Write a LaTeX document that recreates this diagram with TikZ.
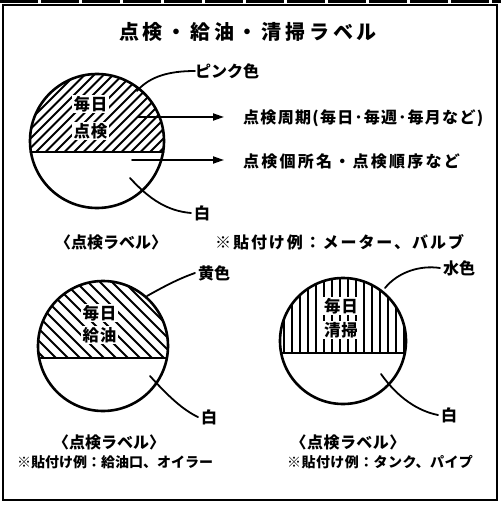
\documentclass[tikz,border=0pt]{standalone}
\usepackage{fontspec}
\setmainfont{Noto Sans CJK JP}
\usetikzlibrary{arrows.meta}
\newcommand\tx[3]{{\fontsize{#1}{#1}\selectfont\addfontfeature{LetterSpace=#2}#3}}
\begin{document}
\begin{tikzpicture}[x=1pt,y=-1pt,line cap=round,
  every node/.style={font=\bfseries,inner sep=0pt},
  frame/.style={line width=2.4pt},
  outline/.style={line width=2.6pt},
  hatch/.style={line width=2pt,line cap=butt},
  leader/.style={line width=1.8pt},
  arr/.style={line width=1.8pt,-{Triangle[length=11pt,width=7pt]}},
  lbl/.style={anchor=west},
  intext/.style={fill=white,inner sep=1.2pt}]
\useasboundingbox (0,0) rectangle (501,505);
% frame
\draw[line width=2.5pt,line cap=butt,dash pattern=on 38pt off 3pt] (0,1.5) -- (501,1.5);
\draw[frame] (3,5) rectangle (497,500);
% title
\node (title) at (248,32) {\tx{20}{19}{点検・給油・清掃ラベル}};

% ---- circle 1
\coordinate (c1) at (97,141);
\begin{scope}
  \clip (c1) circle[radius=67pt];
  \clip (20,60) rectangle (180,152);
  \foreach \k in {-12,...,40} \draw[hatch] ({-100+\k*9.5},250) -- ({100+\k*9.5},50);
\end{scope}
\draw[outline] (c1) circle[radius=67pt];
\draw[outline] (30.6,152) -- (163.4,152);
\node[intext] (t1a) at (90.5,104) {\tx{16.5}{6}{毎日}};
\node[intext] (t1b) at (90.5,131) {\tx{16.5}{6}{点検}};

\node[lbl] (pink) at (195,71) {\tx{16}{0}{ピンク色}};
\coordinate (p1) at (137,91);
\draw[leader] (p1) .. controls (150,76) and (170,71) .. (pink.west);

\node[lbl] (cyc) at (243,118) {\tx{16}{8}{点検周期(毎日･毎週･毎月など)}};
\coordinate (a1s) at (138,117);
\coordinate (a1e) at (224,117);
\draw[arr] (a1s) -- (a1e);
\node[lbl] (loc) at (243,161) {\tx{16}{14}{点検個所名・点検順序など}};
\coordinate (a2s) at (132,160);
\coordinate (a2e) at (224,160);
\draw[arr] (a2s) -- (a2e);

\node[lbl] (w1) at (194,213) {\tx{16}{0}{白}};
\coordinate (q1) at (130,178);
\draw[leader] (q1) .. controls (150,200) and (168,211) .. ([xshift=-3pt]w1.west);

\node (cap1) at (111,242) {\tx{16}{0}{〈点検ラベル〉}};
\node[lbl] (ex1) at (215,242) {\tx{16}{12}{※貼付け例：メーター、バルブ}};

% ---- circle 2
\coordinate (c2) at (103,346);
\begin{scope}
  \clip (c2) circle[radius=65pt];
  \clip (30,270) rectangle (180,358);
  \foreach \k in {-8,...,32} \draw[hatch] ({\k*12-150},200) -- ({\k*12+150},500);
\end{scope}
\draw[outline] (c2) circle[radius=65pt];
\draw[outline] (40.8,358) -- (165.2,358);
\node[intext] (t2a) at (99.5,313) {\tx{16.5}{6}{毎日}};
\node[intext] (t2b) at (99.5,335) {\tx{16.5}{6}{給油}};

\node[lbl] (yel) at (198,273) {\tx{16}{0}{黄色}};
\coordinate (p2) at (147,296);
\draw[leader] (p2) .. controls (165,286) and (178,279) .. ([xshift=-3pt]yel.west);

\node[lbl] (w2) at (201,417) {\tx{16}{0}{白}};
\coordinate (q2) at (150,376);
\draw[leader] (q2) .. controls (168,396) and (183,410) .. ([xshift=-3pt]w2.west);

\node (cap2) at (109,442) {\tx{16}{0}{〈点検ラベル〉}};
\node[lbl] (ex2) at (17,462) {\tx{14}{0}{※貼付け例：給油口、オイラー}};

% ---- circle 3
\coordinate (c3) at (343,341);
\begin{scope}
  \clip (c3) circle[radius=63pt];
  \clip (270,270) rectangle (420,353);
  \foreach \x in {276,284,...,412} \draw[hatch] (\x,270) -- (\x,360);
\end{scope}
\draw[outline] (c3) circle[radius=63pt];
\draw[outline] (281.6,353) -- (404.4,353);
\node[intext] (t3a) at (341,306) {\tx{16.5}{6}{毎日}};
\node[intext] (t3b) at (341,330) {\tx{16.5}{6}{清掃}};

\node[lbl] (wat) at (443,268) {\tx{16}{0}{水色}};
\coordinate (p3) at (385,288);
\draw[leader] (p3) .. controls (398,272) and (420,265) .. ([xshift=-3pt]wat.west);

\node[lbl] (w3) at (441,415) {\tx{16}{0}{白}};
\coordinate (q3) at (381,374);
\draw[leader] (q3) .. controls (398,398) and (418,411) .. ([xshift=-3pt]w3.west);

\node (cap3) at (348,442) {\tx{16}{3}{〈点検ラベル〉}};
\node[lbl] (ex3) at (287,462) {\tx{14}{3}{※貼付け例：タンク、パイプ}};
\end{tikzpicture}
\end{document}
